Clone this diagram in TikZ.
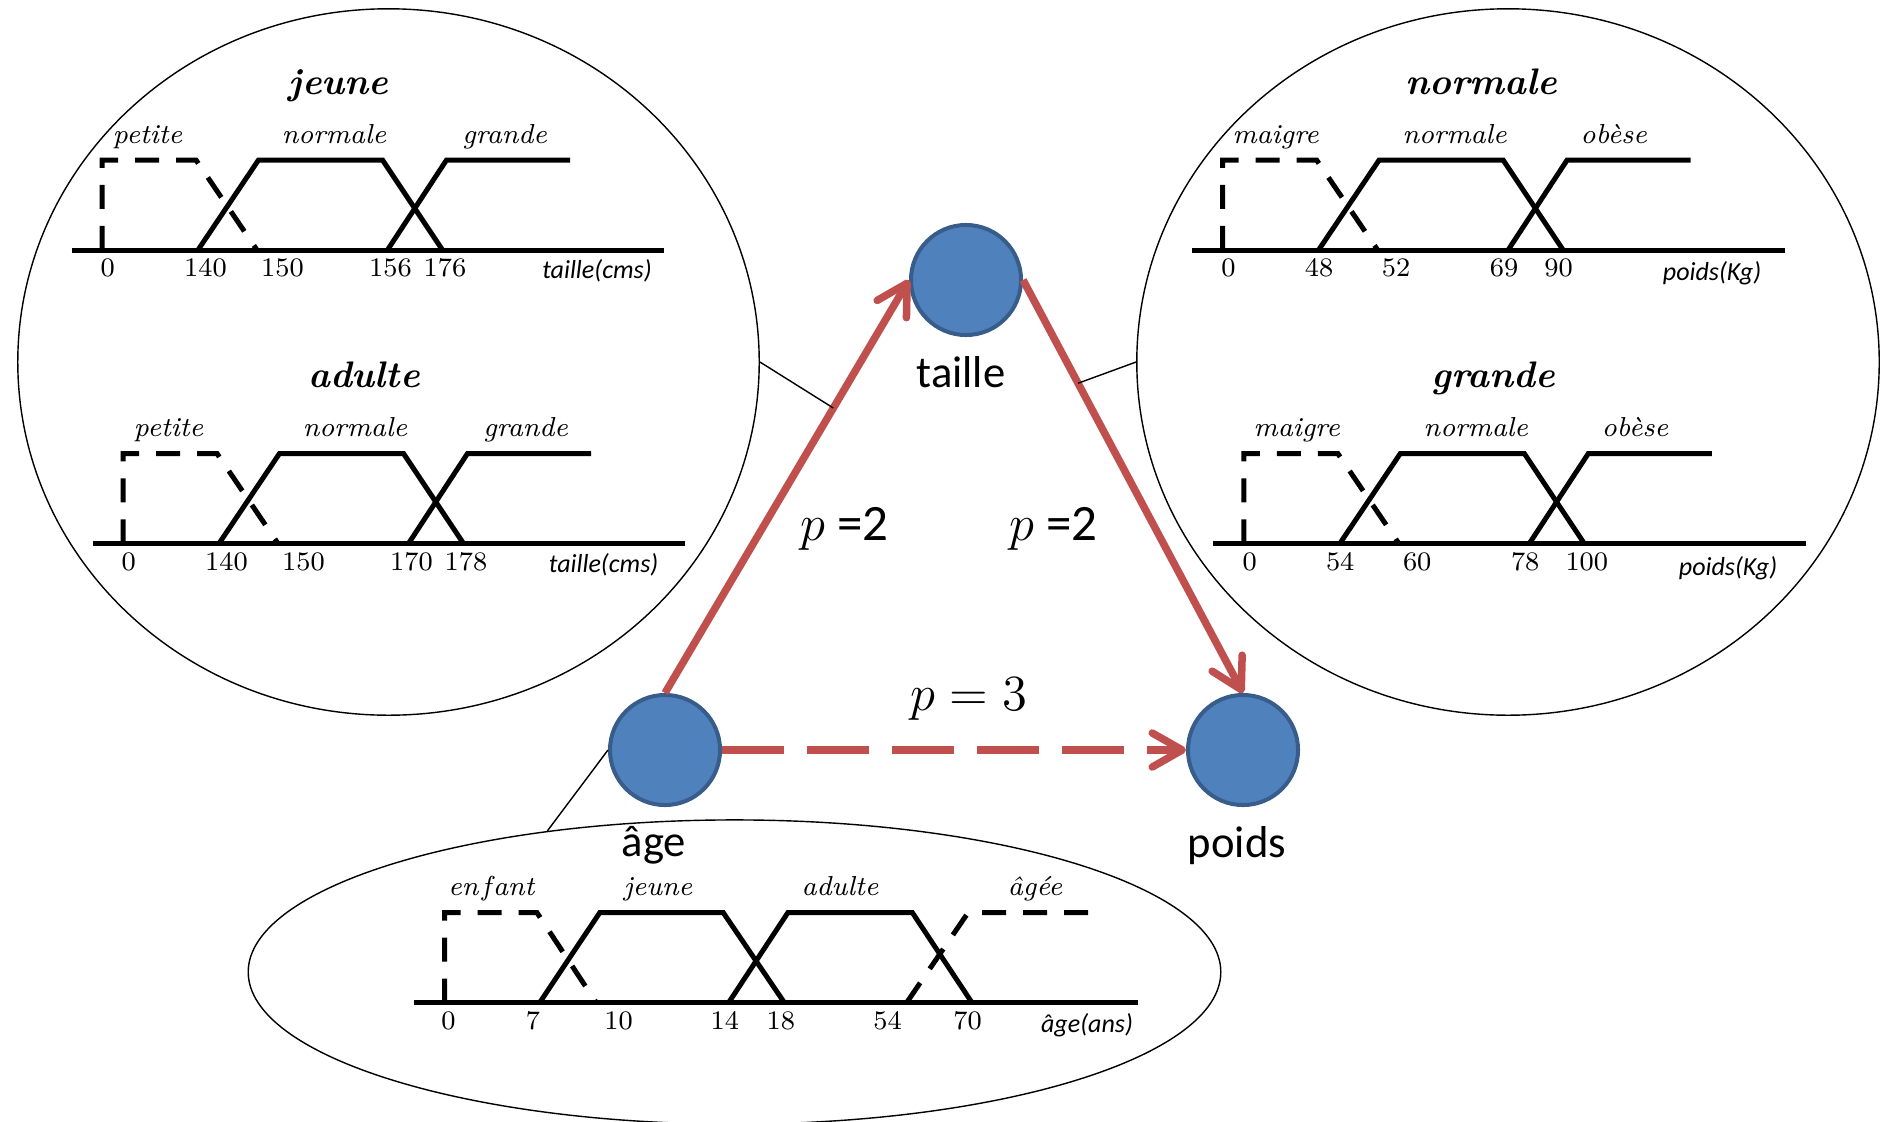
\documentclass[tikz,border=0pt]{standalone}
\usepackage{fontspec}
\newfontfamily\calibri{Carlito}
\usetikzlibrary{arrows.meta, positioning, shapes.geometric}

\definecolor{rouge}{HTML}{C0504D}
\definecolor{bleu}{HTML}{4F81BD}
\definecolor{bleufonce}{HTML}{385D8A}

\begin{document}
\begin{tikzpicture}[x=0.01cm, y=-0.01cm,
    >={Straight Barb[length=0.3cm, width=0.34cm, round]},
    trait/.style={line width=0.05cm},
    pointille/.style={trait, dash pattern=on 0.24cm off 0.17cm},
    var/.style={circle, fill=bleu, draw=bleufonce, line width=0.04cm, minimum size=1.1cm, inner sep=0pt},
    nom/.style={inner sep=0pt, font=\calibri\fontsize{12.7}{15}\selectfont},
    bulle/.style={ellipse, draw, line width=0.4pt, inner sep=0pt},
    lien/.style={rouge, line width=0.075cm},
    coef/.style={inner sep=0pt, anchor=base west, font=\calibri\fontsize{14.5}{17}\selectfont},
    ens/.style={inner sep=0pt, anchor=base, font=\fontsize{7.8}{9}\selectfont\itshape},
    val/.style={inner sep=0pt, anchor=base west, font=\fontsize{7.6}{9}\selectfont},
    titre/.style={inner sep=0pt, anchor=base, font=\fontsize{10.5}{12}\selectfont\bfseries\itshape},
    unite/.style={inner sep=0pt, anchor=base, font=\calibri\fontsize{7.4}{9}\selectfont\itshape},
    troisens/.pic={
      \draw[trait] (-30.5,0) -- (562,0);
      \draw[pointille] (0,0) -- (0,-90) -- (94,-90) -- (155,0);
      \draw[trait] (96,0) -- (156.5,-90) -- (280.5,-90) -- (340.5,0);
      \draw[trait] (285.5,0) -- (344.5,-90) -- (468,-90);
    }]

    \useasboundingbox (0,0) rectangle (1886,1121);
    \clip (0,0) rectangle (1886,1121);

    % bulles
    \node[bulle, minimum width=7.41cm, minimum height=7.06cm] (Etaille) at (388.5,362) {};
    \node[bulle, minimum width=7.42cm, minimum height=7.06cm] (Epoids) at (1508,362) {};
    \node[bulle, minimum width=9.72cm, minimum height=3.04cm] (Eage) at (734.5,972) {};

    % fonctions d'appartenance taille / poids
    \foreach \px/\py/\va/\vb/\vc/\vd/\na/\nb/\nc/\oa/\oc [count=\i] in {
        102/250/140/150/156/176/petite/normale/grande/45.6/402.6,
        123/543.5/140/150/170/178/petite/normale/grande/45.6/402.6,
        1222.6/250/48/52/69/90/maigre/normale/obèse/53/391.2,
        1243.8/543.5/54/60/78/100/maigre/normale/obèse/53/391.2}{
      \pic at (\px,\py) {troisens};
      \foreach \v/\dx [count=\j] in {0/-2, \va/81.5, \vb/158.5, \vc/266.5, \vd/321}
        \node[val] (v\i-\j) at (\px+\dx,\py+26.5) {\v};
      \node[ens] (e\i-1) at (\px+\oa,\py-107) {\na};
      \node[ens] (e\i-2) at (\px+232,\py-107) {\nb};
      \node[ens] (e\i-3) at (\px+\oc,\py-107) {\nc};
    }

    \node[titre] (T1) at (338.6,94) {jeune};
    \node[titre] (T2) at (364,387.5) {adulte};
    \node[titre] (T3) at (1481,94) {normale};
    \node[titre] (T4) at (1493,387.5) {grande};

    \node[unite] (U1) at (597,278) {taille(cms)};
    \node[unite] (U2) at (603.6,572) {taille(cms)};
    \node[unite] (U3) at (1712,280) {poids(Kg)};
    \node[unite] (U4) at (1728,575) {poids(Kg)};

    % fonctions d'appartenance age
    \begin{scope}[shift={(444.6,1002.7)}]
      \draw[trait] (-31,0) -- (693,0);
      \draw[pointille] (0,0) -- (0,-90) -- (92.4,-90) -- (151.7,0);
      \draw[trait] (95,0) -- (155.1,-90) -- (278.7,-90) -- (339.8,0);
      \draw[trait] (284,0) -- (343.2,-90) -- (467.8,-90) -- (527.4,0);
      \draw[pointille] (462,0) -- (523.4,-90) -- (647.6,-90);
      \foreach \v/\dx [count=\j] in {0/-4, 7/80.6, 10/159, 14/265.4, 18/321.4, 54/428, 70/508}
        \node[val] (v5-\j) at (\dx,26.5) {\v};
      \node[ens] (e5-1) at (46.8,-107.5) {en\kern0.12em f\kern0.08em ant};
      \node[ens] (e5-2) at (213.4,-107.5) {jeune};
      \node[ens] (e5-3) at (395.4,-107.5) {adulte};
      \node[ens] (e5-4) at (590.4,-107.5) {âgée};
    \end{scope}
    \node[unite] (U5) at (1087,1032) {âge(ans)};

    % variables
    \node[var] (taille) at (966,280) {};
    \node[var] (age) at (665,750) {};
    \node[var] (poids) at (1243,750) {};
    \node[nom, below=0.19cm of taille, xshift=-0.05cm] (Ltaille) {taille};
    \node[nom, below=0.19cm of age, xshift=-0.11cm] (Lage) {âge};
    \node[nom, below=0.19cm of poids, xshift=-0.06cm] (Lpoids) {poids};

    \draw[lien, ->] (age.north) -- coordinate[pos=0.69] (Ct) (taille.west);
    \draw[lien, ->] (taille.east) -- coordinate[pos=0.25] (Cp) (poids.north);
    \draw[lien, ->, dash pattern=on 0.62cm off 0.23cm] (age.east) -- (poids.west);

    \draw[line width=0.4pt] (Etaille.east) -- (Ct);
    \draw[line width=0.4pt] (Epoids.west) -- (Cp);
    \draw[line width=0.4pt] (age.west) -- (Eage.143.6);

    \node[coef] (p1) at (800,540) {$p$ =2};
    \node[coef] (p2) at (1009,540) {$p$ =2};
    \node[coef] (p3) at (910,710) {$p = 3$};

\end{tikzpicture}
\end{document}
